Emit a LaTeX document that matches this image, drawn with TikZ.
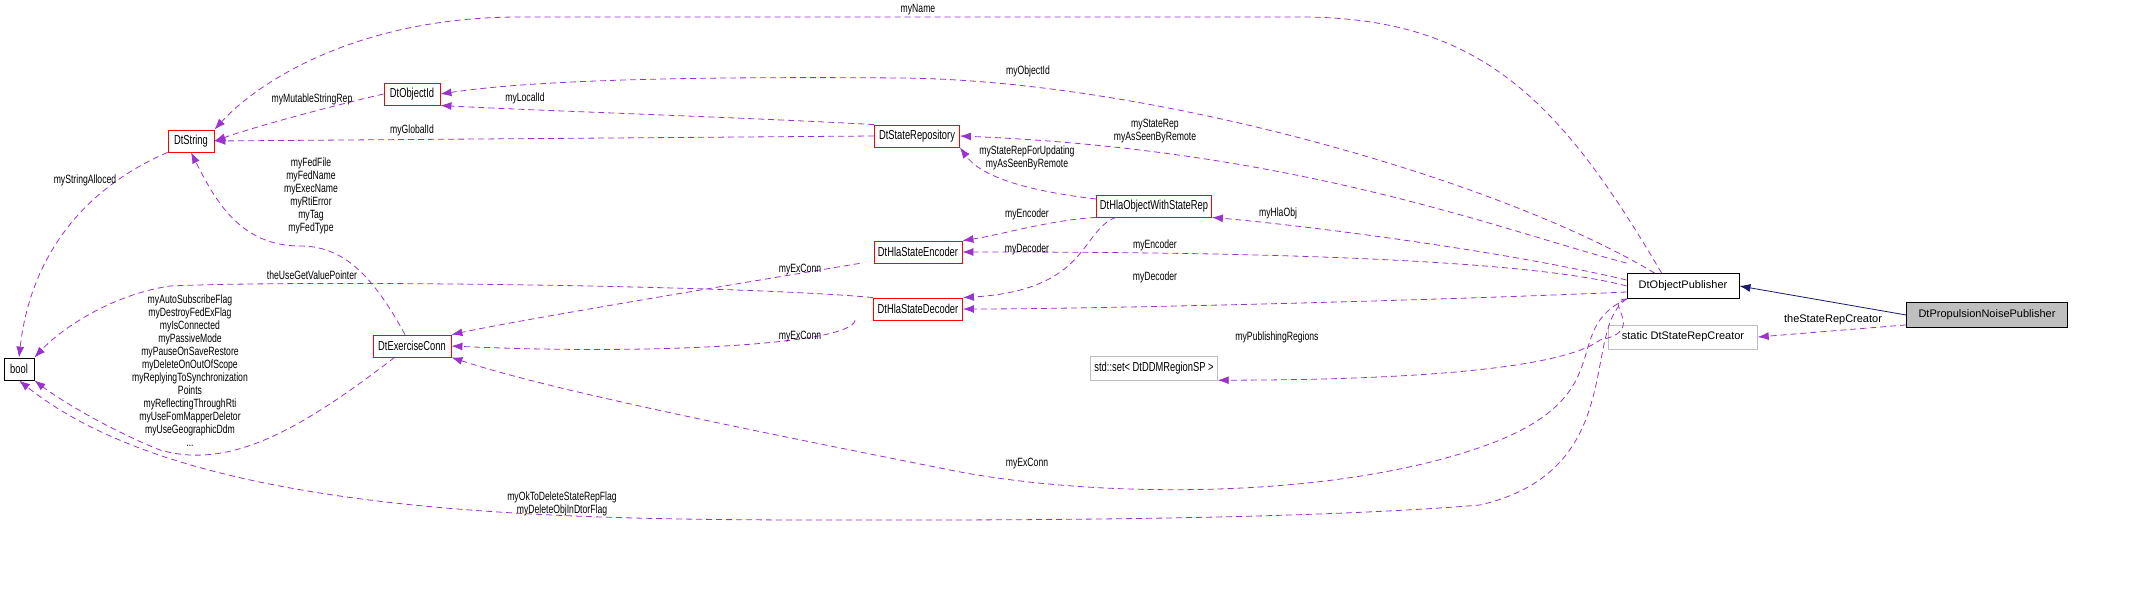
\documentclass[tikz,border=0pt]{standalone}
\usepackage{fontspec}
\setmainfont{Liberation Sans}
\newfontfamily\narrowsans{Liberation Sans}[FakeStretch=0.72]
\usetikzlibrary{arrows.meta, positioning}
\definecolor{edgepurple}{RGB}{154, 50, 205}
\definecolor{basenavy}{RGB}{25, 25, 112}
\definecolor{boxgray}{RGB}{191, 191, 191}

\tikzset{
  cls/.style={draw=red, thick, inner sep=2pt, minimum height=22pt, font=\narrowsans\fontsize{13}{13}\selectfont},
  plain/.style={draw=black, thick, inner sep=2pt, minimum height=22pt, font=\fontsize{11}{13}\selectfont},
  ext/.style={draw=boxgray, inner sep=2pt, minimum height=24pt, font=\fontsize{11}{13}\selectfont},
  uses/.style={draw=edgepurple, dashed, dash pattern=on 6pt off 4pt, thick, -{Latex[length=11pt, width=8pt]}},
  inherits/.style={draw=basenavy, thick, -{Latex[length=11pt, width=8pt]}},
  lbl/.style={align=center, inner sep=0pt, font=\narrowsans\fontsize{12}{13}\selectfont}
}

\begin{document}
\begin{tikzpicture}[x=1pt, y=-1pt]
    \useasboundingbox (0,0) rectangle (2152,594);

    % classes
    \node[plain, minimum width=30pt] (bool) at (19,369) {\narrowsans\fontsize{13}{13}\selectfont bool};
    \node[cls, minimum width=46pt] (str) at (191,141) {DtString};
    \node[cls, minimum width=56pt] (oid) at (412,94) {DtObjectId};
    \node[cls, minimum width=85pt] (repo) at (917,136) {DtStateRepository};
    \node[cls, minimum width=115pt] (hla) at (1154,206) {DtHlaObjectWithStateRep};
    \node[cls, minimum width=88pt] (enc) at (918,252) {DtHlaStateEncoder};
    \node[cls, minimum width=89pt] (dec) at (918,309) {DtHlaStateDecoder};
    \node[cls, minimum width=78pt] (exc) at (412,346) {DtExerciseConn};
    \node[ext, minimum width=127pt] (regset) at (1154,368) {\narrowsans\fontsize{13}{13}\selectfont std::set< DtDDMRegionSP >};
    \node[plain, minimum width=112pt, minimum height=25pt] (pub) at (1683,286) {DtObjectPublisher};
    \node[ext, minimum width=149pt] (creator) at (1683,337) {static DtStateRepCreator};
    \node[plain, fill=boxgray, minimum width=161pt, minimum height=25pt] (noise) at (1987,315) {DtPropulsionNoisePublisher};

    % connectors
    \draw[inherits] (noise.west) -- (pub.east);
    \draw[uses] (noise.south west) ++(0,-3) -- (creator.east);
    \draw[uses] (pub.north west) ++(35,0) .. controls (1560,100) and (1480,17) .. (1300,17)
        -- (520,17) .. controls (360,17) and (260,80) .. (str.north east);
    \draw[uses] (pub.north west) ++(28,0) .. controls (1500,180) and (1150,80) .. (900,78)
        .. controls (650,76) and (520,82) .. (oid.east);
    \draw[uses] (repo.north west) .. controls (760,118) and (520,110) .. (oid.south east);
    \draw[uses] (oid.west) .. controls (340,104) and (260,125) .. (str.east);
    \draw[uses] (repo.west) -- (str.east);
    \draw[uses] (pub.north west) ++(0,-10) .. controls (1500,230) and (1300,150) .. (repo.east);
    \draw[uses] (hla.west) ++(0,-7) .. controls (1020,190) and (980,175) .. (repo.south east);
    \draw[uses] (pub.west) ++(0,-6) .. controls (1500,250) and (1300,225) .. (hla.south east);
    \draw[uses] (hla.south west) .. controls (1050,220) and (1000,235) .. (enc.north east);
    \draw[uses] (hla.south west) ++(20,0) .. controls (1080,230) and (1090,290) .. (dec.north east);
    \draw[uses] (pub.west) .. controls (1500,252) and (1100,252) .. (enc.east);
    \draw[uses] (pub.west) ++(0,6) .. controls (1450,300) and (1100,309) .. (dec.east);
    \draw[uses] (enc.south west) ++(-14,0) .. controls (700,290) and (520,320) .. (exc.north east);
    \draw[uses] (dec.south west) ++(-18,0) .. controls (850,345) and (650,355) .. (exc.east);
    \draw[uses] (dec.north west) .. controls (740,285) and (300,280) .. (170,286)
        .. controls (110,295) and (60,330) .. (bool.north east);
    \draw[uses] (exc.north) ++(-7,0) .. controls (370,270) and (340,246) .. (300,246)
        .. controls (240,246) and (215,200) .. (str.south);
    \draw[uses] (exc.south west) ++(22,0) .. controls (300,430) and (230,470) .. (160,450)
        .. controls (110,430) and (60,400) .. (bool.south east);
    \draw[uses] (str.south west) .. controls (80,190) and (30,260) .. (bool.north);
    \draw[uses] (pub.south west) .. controls (1580,330) and (1630,470) .. (1480,505)
        .. controls (1300,520) and (1000,520) .. (900,520)
        .. controls (600,520) and (200,525) .. (bool.south);
    \draw[uses] (pub.south west) .. controls (1560,330) and (1620,390) .. (1500,440)
        .. controls (1350,500) and (1100,500) .. (950,470)
        .. controls (750,430) and (550,390) .. (exc.south east);
    \draw[uses] (pub.south west) .. controls (1600,300) and (1650,330) .. (1600,340)
        .. controls (1560,370) and (1400,380) .. (regset.south east);

    % labels
    \node[lbl] (lName) at (918,10) {myName};
    \node[lbl] (lOid) at (1028,71) {myObjectId};
    \node[lbl] (lLocal) at (525,98) {myLocalId};
    \node[lbl] (lMut) at (312,99) {myMutableStringRep};
    \node[lbl] (lGlob) at (412,130) {myGlobalId};
    \node[lbl] (lRep) at (1155,131) {myStateRep\\myAsSeenByRemote};
    \node[lbl] (lRepUpd) at (1027,158) {myStateRepForUpdating\\myAsSeenByRemote};
    \node[lbl] (lHla) at (1278,213) {myHlaObj};
    \node[lbl] (lEncH) at (1027,214) {myEncoder};
    \node[lbl] (lDecH) at (1027,249) {myDecoder};
    \node[lbl] (lEncP) at (1155,245) {myEncoder};
    \node[lbl] (lDecP) at (1155,277) {myDecoder};
    \node[lbl] (lExE) at (800,270) {myExConn};
    \node[lbl] (lExD) at (800,337) {myExConn};
    \node[lbl] (lUse) at (312,275) {theUseGetValuePointer};
    \node[lbl] (lFed) at (311,196) {myFedFile\\myFedName\\myExecName\\myRtiError\\myTag\\myFedType};
    \node[lbl] (lFlags) at (190,371) {myAutoSubscribeFlag\\myDestroyFedExFlag\\myIsConnected\\myPassiveMode\\myPauseOnSaveRestore\\myDeleteOnOutOfScope\\myReplyingToSynchronization\\Points\\myReflectingThroughRti\\myUseFomMapperDeletor\\myUseGeographicDdm\\...};
    \node[lbl] (lAlloc) at (85,180) {myStringAlloced};
    \node[lbl] (lOk) at (562,504) {myOkToDeleteStateRepFlag\\myDeleteObjInDtorFlag};
    \node[lbl] (lExP) at (1027,464) {myExConn};
    \node[lbl] (lReg) at (1277,337) {myPublishingRegions};
    \node[lbl, font=\fontsize{11}{13}\selectfont] (lCreator) at (1833,320) {theStateRepCreator};
\end{tikzpicture}
\end{document}
